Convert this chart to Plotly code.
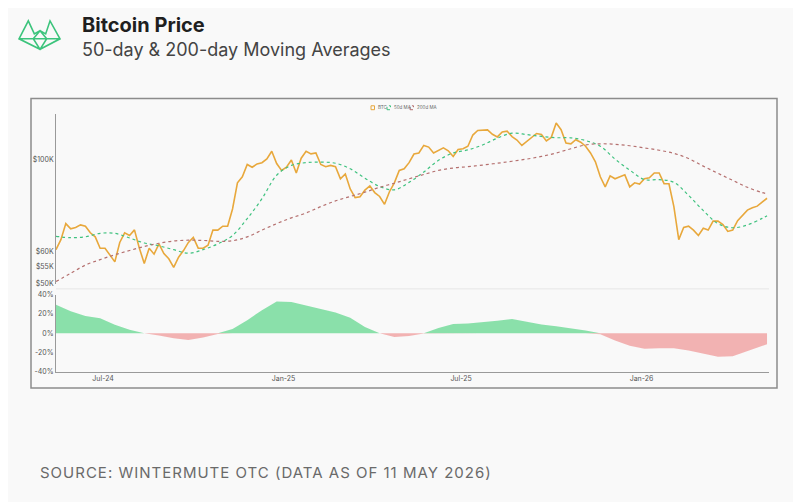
import numpy as np
import pandas as pd
import plotly.graph_objects as go

# the page has an 8px body margin, so the figure is drawn 8px smaller and
# every pixel position below is measured on the full 801x502 window
OFF = 8
W, H = 801 - OFF, 502 - OFF

# BTC close (thousand USD), read every 5 days off the chart
price_dates = pd.date_range("2024-05-14", periods=146, freq="5D")
btc_price = [60.5, 64, 70, 68, 68.5, 69.5, 69, 66.5, 65, 61,
             61, 58.5, 56.5, 63, 66.5, 65.5, 67.6, 61, 56, 61,
             59, 62.5, 59.2, 57.5, 54.8, 58, 60.2, 63, 64.8, 61,
             61, 62, 67.5, 67.5, 69, 69, 76, 88, 91, 97.5,
             96, 97.8, 98.5, 100.6, 105, 98, 94.3, 96, 100, 93,
             101, 105, 103.5, 104, 97.5, 96.3, 97, 96.3, 90, 92.5,
             85, 81, 81.4, 84.5, 86.5, 83.3, 81.5, 78, 83.7, 88,
             94.3, 95.2, 98.5, 103.4, 104, 108.5, 107.5, 104, 105.5, 107,
             105.3, 102, 106, 106.5, 108, 115, 118, 118.3, 118.4, 115.5,
             113.8, 117, 117.5, 114, 111.8, 108.5, 110.8, 113.3, 116, 115.4,
             111.3, 113.5, 123, 118.5, 110, 109.5, 112, 110.5, 108, 104,
             99, 91, 86, 91.5, 90, 91, 92, 86, 88, 87.4,
             90, 90.5, 93, 93, 87.6, 87.5, 77, 64, 68.5, 69,
             67.5, 65.5, 68.2, 67.5, 71, 71, 69.6, 67, 67.5, 71.2,
             73.5, 75.5, 76.5, 77.2, 79, 80.7]

# moving averages (thousand USD) and their spread (%), every 15 days
ma_dates = list(pd.date_range("2024-05-14", periods=49, freq="15D")) + [pd.Timestamp("2026-05-09")]
ma_50 = [65.2, 64.7, 65, 66.3, 66.3, 64.6, 62.8, 61.8, 60.5, 59.3,
         60.5, 62.5, 65.5, 72, 80.5, 91.8, 97, 98.5, 98.8, 98.2,
         95.2, 90.3, 86.2, 84.6, 88.2, 93.5, 99.8, 104, 105.8, 108.8,
         113, 116.2, 115.3, 114.1, 113.3, 113.2, 111.5, 108, 100.5, 94.5,
         89.6, 89.6, 88.2, 82, 75.3, 70, 68.4, 69.5, 72.1, 73.2]
ma_200 = [50.6, 53, 55.5, 57.2, 58.8, 60.2, 61.6, 62.7, 63.5, 63.8,
          63.7, 63.4, 63.6, 65, 67.5, 70, 72.3, 74.3, 77, 79.5,
          81.5, 83.5, 85.8, 87.8, 90, 92.2, 94.3, 95.6, 96.3, 97.2,
          98.2, 99.3, 100.5, 102, 104, 106.5, 108.8, 109.5, 109.2, 108.3,
          107, 105.6, 103.8, 100.8, 96.6, 92.8, 89.2, 85.8, 83.3, 82.8]
ma_spread = [29.5, 22.8, 18, 15.5, 8.8, 3.7, 0, -2.3, -5.2, -7,
             -4.5, -0.8, 4.5, 13.5, 24, 33, 32.5, 28.8, 25.2, 21.5,
             16, 6.5, 0, -4, -3, -0.2, 5.5, 9.5, 10, 11.3,
             13, 14.7, 12, 9, 7.3, 5.2, 2.7, -1, -7.5, -13,
             -16.3, -15.6, -15.6, -18, -21.5, -24.5, -24, -19, -13.5, -11.5]

x_ticks = ["2024-07-01", "2025-01-01", "2025-07-01", "2026-01-01"]
x_labels = ["Jul-24", "Jan-25", "Jul-25", "Jan-26"]
price_ticks = [50000, 55000, 60000, 100000]
price_labels = ["$50K", "$55K", "$60K", "$100K"]
spread_ticks = [-40, -20, 0, 20, 40]
spread_labels = ["-40%", "-20%", "0%", "20%", "40%"]

ORANGE = "#e8a83c"
GREEN = "#3fc27f"
RED = "#b5706f"
AXIS = "#9a9a9a"
FONT = "Inter"


def px(x):
    return (x - OFF) / W


def py(y):
    return 1 - (y - OFF) / H


spread = np.array(ma_spread)

fig = go.Figure()
fig.add_trace(go.Scatter(x=price_dates, y=np.array(btc_price) * 1000, name="BTC",
                         mode="lines", line=dict(color=ORANGE, width=1.6)))
fig.add_trace(go.Scatter(x=ma_dates, y=np.array(ma_50) * 1000, name="50d MA",
                         mode="lines", line=dict(color=GREEN, width=1.2, dash="dot", shape="spline")))
fig.add_trace(go.Scatter(x=ma_dates, y=np.array(ma_200) * 1000, name="200d MA",
                         mode="lines", line=dict(color=RED, width=1.2, dash="dot", shape="spline")))
# spread panel: green above zero, red below
fig.add_trace(go.Scatter(x=ma_dates, y=np.clip(spread, 0, None), xaxis="x2", yaxis="y2",
                         mode="lines", line=dict(width=0), fill="tozeroy",
                         fillcolor="rgba(110,218,150,0.8)", hoverinfo="skip"))
fig.add_trace(go.Scatter(x=ma_dates, y=np.clip(spread, None, 0), xaxis="x2", yaxis="y2",
                         mode="lines", line=dict(width=0), fill="tozeroy",
                         fillcolor="rgba(240,160,160,0.8)", hoverinfo="skip"))

tick_font = dict(family=FONT, size=7, color="#555")
x_dom = [px(56), px(769)]
x_rng = ["2024-05-14", "2026-05-11"]

fig.update_layout(
    width=W, height=H, showlegend=False,
    margin=dict(l=0, r=0, t=0, b=0),
    paper_bgcolor="#f9f9f9", plot_bgcolor="rgba(0,0,0,0)",
    font=dict(family=FONT, color="#333"),
    xaxis=dict(domain=x_dom, range=x_rng, anchor="y", showticklabels=False,
               showgrid=False, zeroline=False, showline=False),
    yaxis=dict(domain=[py(283.7), py(111)], type="log",
               range=[np.log10(50000), np.log10(129300)],
               tickvals=price_ticks, ticktext=price_labels, tickfont=tick_font,
               showgrid=False, zeroline=False, showline=True, linecolor=AXIS, linewidth=1),
    xaxis2=dict(domain=x_dom, range=x_rng, anchor="y2", matches="x",
                tickvals=x_ticks, ticktext=x_labels, tickfont=tick_font,
                showgrid=False, zeroline=False, showline=True, linecolor=AXIS, linewidth=1),
    yaxis2=dict(domain=[py(373.3), py(295)], range=[-40, 40], anchor="x2",
                tickvals=spread_ticks, ticktext=spread_labels, tickfont=tick_font,
                showgrid=False, zeroline=False, showline=True, linecolor=AXIS, linewidth=1),
)

shapes = [
    # chart frame
    dict(type="rect", xref="paper", yref="paper", x0=px(31), x1=px(777), y0=py(390), y1=py(95),
         line=dict(color="#8c8c8c", width=1.5), layer="below"),
    # faint separator under the price panel
    dict(type="line", xref="paper", yref="paper", x0=px(56), x1=px(769), y0=py(289), y1=py(289),
         line=dict(color="#e6e6e6", width=1)),
]

# logo (rough outline of the green mark)
logo = [(19, 34.3), (28.3, 16), (34.3, 29.3), (40, 26), (45.7, 29.3), (50, 16), (60, 34.3), (40, 45)]
path = "M " + " L ".join(f"{px(a):.4f},{py(b):.4f}" for a, b in logo) + " Z"
diamond = [(33.3, 34.3), (40, 26), (46.7, 34.3), (40, 45)]
path += " M " + " L ".join(f"{px(a):.4f},{py(b):.4f}" for a, b in diamond) + " Z"
path += f" M {px(19):.4f},{py(34.3):.4f} L {px(60):.4f},{py(34.3):.4f}"
shapes.append(dict(type="path", xref="paper", yref="paper", path=path,
                   line=dict(color="#3cc47c", width=1.6)))

# legend boxes
legend_items = [("BTC", ORANGE, "solid", 371), ("50d MA", GREEN, "dot", 387), ("200d MA", RED, "dot", 410)]
annotations = []
for label, col, dash, x0 in legend_items:
    shapes.append(dict(type="rect", xref="paper", yref="paper", x0=px(x0), x1=px(x0 + 3.5),
                       y0=py(106.5), y1=py(102.5), line=dict(color=col, width=1, dash=dash)))
    annotations.append(dict(text=label, xref="paper", yref="paper", x=px(x0 + 4.5), y=py(104.5),
                            xanchor="left", yanchor="middle", showarrow=False,
                            font=dict(family=FONT, size=4.5, color="#666")))

annotations += [
    dict(text="<b>Bitcoin Price</b>", xref="paper", yref="paper", x=px(80), y=py(20),
         xanchor="left", yanchor="middle", showarrow=False,
         font=dict(family=FONT, size=20, color="#1f1f1f")),
    dict(text="50-day & 200-day Moving Averages", xref="paper", yref="paper", x=px(80), y=py(45),
         xanchor="left", yanchor="middle", showarrow=False,
         font=dict(family=FONT, size=18, color="#444")),
    dict(text='<span style="letter-spacing:1px">SOURCE: WINTERMUTE OTC (DATA AS OF 11 MAY 2026)</span>',
         xref="paper", yref="paper", x=px(38), y=py(476),
         xanchor="left", yanchor="middle", showarrow=False,
         font=dict(family=FONT, size=15, color="#6a6a6a")),
]

fig.update_layout(shapes=shapes, annotations=annotations)

fig.write_html("out.html")
